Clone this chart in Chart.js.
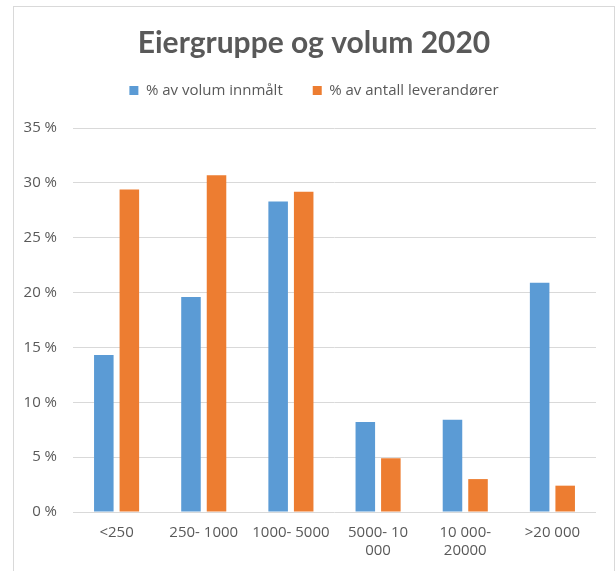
<!DOCTYPE html>
<html>
<head>
<meta charset="utf-8">
<script src="https://cdn.jsdelivr.net/npm/chart.js@4"></script>
<style>
  body { margin: 0; background: #fff; }
  #frame {
    position: absolute; left: 13px; top: 6px;
    width: 600px; height: 600px;
    border: 1px solid #d9d9d9;
  }
  #wrap { position: absolute; left: 0; top: 0; width: 600px; height: 564px; }
</style>
</head>
<body>
<div id="frame"><div id="wrap"><canvas id="chart"></canvas></div></div>
<script>
const categories = ["<250", "250- 1000", "1000- 5000", ["5000- 10", "000"], ["10 000-", "20000"], ">20 000"];
const volumShare = [14.3, 19.6, 28.3, 8.2, 8.4, 20.9];
const leverandorShare = [29.4, 30.7, 29.2, 4.9, 3.0, 2.4];
const yTicks = [0, 5, 10, 15, 20, 25, 30, 35];

const grey = '#595959';
Chart.defaults.font.family = '"Open Sans"';
Chart.defaults.color = grey;

// extra room under the legend, like the Excel original
const legendGap = {
    id: 'legendGap',
    beforeInit(chart) {
        const fit = chart.legend.fit;
        chart.legend.fit = function () {
            fit.bind(chart.legend)();
            this.height += 20;
        };
    }
};

new Chart(document.getElementById('chart'), {
    type: 'bar',
    data: {
        labels: categories,
        datasets: [{
            label: '% av volum innmålt',
            data: volumShare,
            backgroundColor: '#5b9bd5'
        }, {
            label: '% av antall leverandører',
            data: leverandorShare,
            backgroundColor: '#ed7d31'
        }]
    },
    options: {
        responsive: true,
        maintainAspectRatio: false,
        animation: false,
        categoryPercentage: 0.586,
        barPercentage: 0.765,
        layout: { padding: { left: 0, right: 0, top: 0, bottom: 7 } },
        plugins: {
            title: {
                display: true,
                text: 'Eiergruppe og volum 2020',
                color: grey,
                font: { family: 'Lato', size: 30, weight: 'bold', lineHeight: 1 },
                padding: { top: 21, bottom: -5 }
            },
            legend: {
                labels: {
                    boxWidth: 9,
                    boxHeight: 9,
                    padding: 30,
                    color: grey,
                    font: { size: 15 }
                }
            },
            tooltip: { enabled: false }
        },
        scales: {
            x: {
                grid: { display: false },
                border: { display: false },
                ticks: { padding: 4, font: { size: 15 }, maxRotation: 0, autoSkip: false }
            },
            y: {
                min: 0,
                max: 35,
                afterBuildTicks: axis => { axis.ticks = yTicks.map(v => ({ value: v })); },
                afterFit: axis => { axis.width = 59; },
                grid: { color: '#d9d9d9', lineWidth: 1, drawTicks: false },
                border: { display: false },
                ticks: {
                    padding: 16,
                    font: { size: 15 },
                    callback: v => v + ' %'
                }
            },
            // empty right-hand scale, only keeps a margin beside the plot
            yRight: {
                position: 'right',
                grid: { display: false },
                border: { display: false },
                ticks: { display: false },
                afterFit: axis => { axis.width = 18; }
            }
        }
    },
    plugins: [legendGap]
});
</script>
</body>
</html>
